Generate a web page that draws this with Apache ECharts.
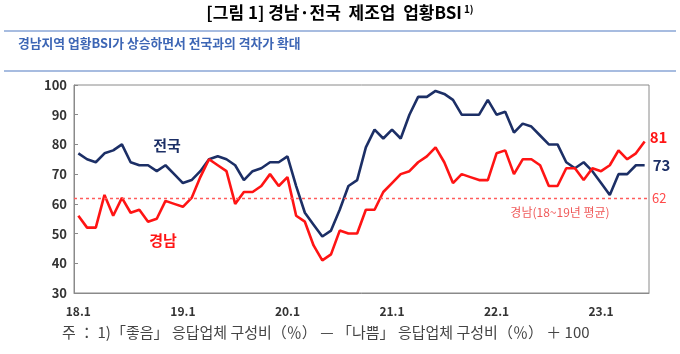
<!DOCTYPE html>
<html>
<head>
<meta charset="utf-8">
<script src="https://cdn.jsdelivr.net/npm/echarts@6/dist/echarts.min.js"></script>
<style>
  html, body { margin: 0; padding: 0; background: #fff; }
  #chart { width: 680px; height: 354px; }
</style>
</head>
<body>
<div id="chart"></div>
<script>
// 월별 업황BSI (18.1 ~ 23.6)
const months = [];
for (let y = 18; y <= 23; y++) {
  for (let m = 1; m <= 12; m++) {
    if (y === 23 && m > 6) break;
    months.push(y + "." + m);
  }
}

const national = [ // 전국
  77, 75, 74, 77, 78, 80, 74, 73, 73, 71, 73, 70,
  67, 68, 71, 75, 76, 75, 73, 68, 71, 72, 74, 74,
  76, 66, 57, 53, 49, 51, 58, 66, 68, 79, 85, 82,
  85, 82, 90, 96, 96, 98, 97, 95, 90, 90, 90, 95,
  90, 91, 84, 87, 86, 83, 80, 80, 74, 72, 74, 71,
  67, 63, 70, 70, 73, 73
];

const gyeongnam = [ // 경남
  56, 52, 52, 63, 56, 62, 57, 58, 54, 55, 61, 60,
  59, 62, 69, 75, 73, 71, 60, 64, 64, 66, 70, 66,
  69, 56, 54, 46, 41, 43, 51, 50, 50, 58, 58, 64,
  67, 70, 71, 74, 76, 79, 74, 67, 70, 69, 68, 68,
  77, 78, 70, 75, 75, 73, 66, 66, 72, 72, 68, 72,
  71, 73, 78, 75, 77, 81
];

const avgLine = 62; // 경남 18~19년 평균

const NAVY = "#1c2f66";
const RED = "#ff1414";
const FONT = "Noto Sans CJK KR";

const chart = echarts.init(document.getElementById("chart"));

chart.setOption({
  backgroundColor: "#fff",
  animation: false,
  textStyle: { fontFamily: FONT },
  grid: {
    left: 74,
    right: 31,
    top: 85,
    bottom: 61,
    show: true,
    borderColor: "#8a8a8a",
    borderWidth: 1,
  },
  xAxis: {
    type: "category",
    data: months,
    boundaryGap: true,
    axisLine: { lineStyle: { color: "#8a8a8a" } },
    axisTick: { inside: true, length: 4, interval: 11, lineStyle: { color: "#8a8a8a" } },
    axisLabel: {
      interval: 11,
      margin: 12,
      color: "#333",
      fontWeight: "bold",
      fontSize: 12,
      fontFamily: FONT,
    },
    splitLine: { show: false },
  },
  yAxis: {
    type: "value",
    min: 30,
    max: 100,
    interval: 10,
    axisLine: { show: true, lineStyle: { color: "#8a8a8a" } },
    axisTick: { show: true, inside: true, length: 4, lineStyle: { color: "#8a8a8a" } },
    axisLabel: { color: "#333", fontWeight: "bold", fontSize: 13, margin: 7, fontFamily: FONT },
    splitLine: { show: false },
  },
  series: [
    {
      name: "전국",
      type: "line",
      data: national,
      symbol: "none",
      lineStyle: { color: NAVY, width: 2.6 },
      itemStyle: { color: NAVY },
      endLabel: {
        show: true,
        formatter: "{c}",
        color: NAVY,
        fontWeight: "bold",
        fontSize: 15,
        distance: 8,
        fontFamily: FONT,
      },
      z: 3,
    },
    {
      name: "경남",
      type: "line",
      data: gyeongnam,
      symbol: "none",
      lineStyle: { color: RED, width: 2.6 },
      itemStyle: { color: RED },
      endLabel: {
        show: true,
        formatter: "{c}",
        color: RED,
        fontWeight: "bold",
        fontSize: 15,
        distance: 5,
        offset: [0, -4],
        fontFamily: FONT,
      },
      markLine: {
        silent: true,
        symbol: "none",
        lineStyle: { color: "#ff5c5c", type: [3, 3], width: 1.3 },
        label: {
          show: true,
          position: "end",
          formatter: String(avgLine),
          color: "#ff4a4a",
          fontSize: 13,
          distance: 3,
          fontFamily: FONT,
        },
        data: [{ yAxis: avgLine }],
      },
      z: 4,
    },
  ],
  graphic: [
    {
      type: "text",
      left: "center",
      top: 4,
      style: {
        text: "{a|[그림 1] 경남·전국  제조업  업황BSI}{s|1)}",
        rich: {
          a: { font: "bold 17px " + FONT, color: "#222", verticalAlign: "bottom" },
          s: { font: "bold 10px " + FONT, color: "#222", verticalAlign: "top", padding: [0, 0, 0, 2] },
        },
      },
    },
    {
      type: "line",
      shape: { x1: 4, y1: 31, x2: 676, y2: 31 },
      style: { stroke: "#8aa6d6", lineWidth: 1.5 },
    },
    {
      type: "text",
      left: 18,
      top: 37,
      style: {
        text: "경남지역 업황BSI가 상승하면서 전국과의 격차가 확대",
        font: "bold 12.8px " + FONT,
        fill: "#3d66b5",
      },
    },
    {
      type: "line",
      shape: { x1: 4, y1: 71, x2: 676, y2: 71 },
      style: { stroke: "#8aa6d6", lineWidth: 1.5 },
    },
    {
      type: "text",
      x: 167,
      y: 145,
      style: {
        text: "전국",
        font: "bold 15px " + FONT,
        fill: NAVY,
        textAlign: "center",
        textVerticalAlign: "middle",
      },
    },
    {
      type: "text",
      x: 163,
      y: 240,
      style: {
        text: "경남",
        font: "bold 15px " + FONT,
        fill: RED,
        textAlign: "center",
        textVerticalAlign: "middle",
      },
    },
    {
      type: "text",
      x: 560,
      y: 212,
      style: {
        text: "경남(18~19년 평균)",
        font: "12px " + FONT,
        fill: "#f05a5a",
        textAlign: "center",
        textVerticalAlign: "middle",
      },
    },
    {
      type: "text",
      left: 62,
      top: 325,
      style: {
        text: "주 ： 1)「좋음」 응답업체 구성비（％） — 「나쁨」 응답업체 구성비（％） ＋ 100",
        font: "15px " + FONT,
        fill: "#444",
      },
    },
  ],
});
</script>
</body>
</html>
